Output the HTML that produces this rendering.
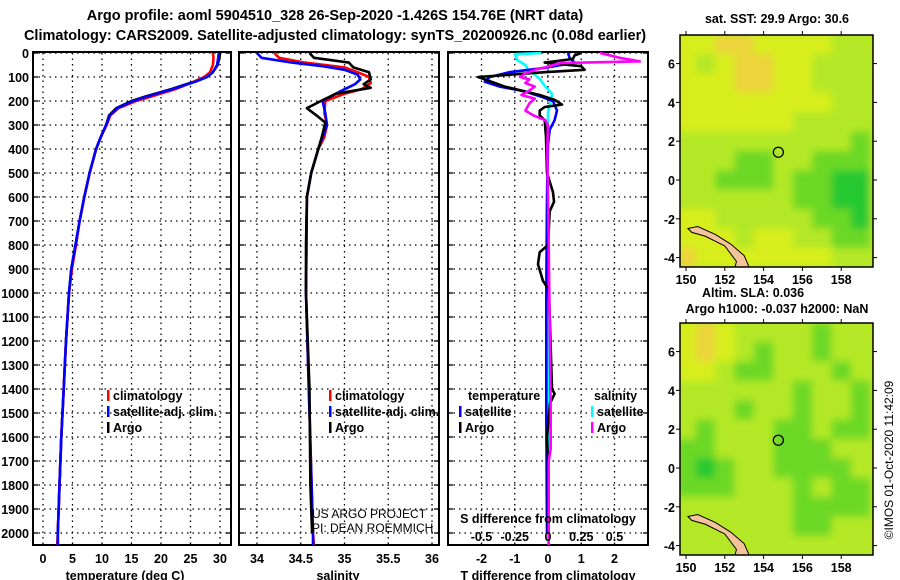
<!DOCTYPE html>
<html><head><meta charset="utf-8">
<style>
html,body{margin:0;padding:0;background:#fff;}
svg{display:block;}
text{font-family:"Liberation Sans",sans-serif;font-weight:bold;fill:#000;}
</style></head>
<body>
<svg id="chart" width="900" height="580" xmlns="http://www.w3.org/2000/svg">
<defs><filter id="blur" x="-5%" y="-5%" width="110%" height="110%"><feGaussianBlur stdDeviation="4"/></filter></defs>
<text x="335" y="20" font-size="14.5" text-anchor="middle">Argo profile: aoml 5904510_328 26-Sep-2020 -1.426S 154.76E (NRT data)</text>
<text x="335" y="40" font-size="14.5" text-anchor="middle">Climatology: CARS2009. Satellite-adjusted climatology: synTS_20200926.nc (0.08d earlier)</text>
<g id="g"></g>
</svg>
<script>
// ---------- data ----------
const depthTicks = [0,100,200,300,400,500,600,700,800,900,1000,1100,1200,1300,1400,1500,1600,1700,1800,1900,2000];
const tempTicks = [0,5,10,15,20,25,30];
const salTicks = ["34","34.5","35","35.5","36"];
const tdiffTicks = ["-2","-1","0","1","2"];
const sdiffTicks = ["-0.5","-0.25","0","0.25","0.5"];

const tDepth = [0,20,50,80,100,120,150,180,200,230,260,300,350,400,500,600,700,800,900,1000,1200,1400,1600,1800,2000,2050];
const argoT = [30.0,29.9,29.6,28.8,27.5,25.5,21.8,17.5,15.0,12.4,11.2,10.7,9.8,9.0,7.9,7.0,6.2,5.5,4.8,4.4,3.9,3.5,3.1,2.8,2.5,2.5];
const climT = [28.8,28.9,28.8,28.3,27.3,25.5,22.5,18.5,15.8,12.8,11.4,10.8,9.8,9.0,7.9,7.0,6.2,5.6,4.9,4.4,3.9,3.5,3.1,2.8,2.5,2.4];
const satT  = [29.8,29.7,29.5,28.8,27.8,25.8,22.0,17.8,15.3,12.6,11.3,10.7,9.8,9.0,7.9,7.0,6.2,5.5,4.8,4.4,3.9,3.5,3.1,2.8,2.5,2.5];

const argoSDepth = [0,20,40,60,80,110,130,145,170,200,230,260,290,350,400,500,600,800,1000,1400,1800,2000];
const argoS = [34.6,34.65,35.05,35.1,35.28,35.3,35.22,35.3,34.9,34.73,34.57,34.68,34.78,34.74,34.7,34.62,34.57,34.56,34.56,34.6,34.61,34.63];
const climSDepth = [0,20,40,60,80,100,125,150,170,200,250,300,350,400,500,600,1000,1500,2000,2050];
const climS = [34.2,34.25,34.55,35.0,35.15,35.28,35.3,35.2,35.0,34.78,34.77,34.8,34.77,34.7,34.62,34.57,34.56,34.6,34.64,34.65];
const satSDepth = [0,20,40,55,70,90,110,130,160,200,250,300,400,500,600,1000,1500,2000,2050];
const satS = [34.0,34.05,34.4,34.75,35.0,35.15,35.18,35.12,34.95,34.75,34.78,34.8,34.7,34.62,34.57,34.56,34.6,34.64,34.64];

const dTSatDepth = [0,20,40,60,80,100,120,140,160,180,200,240,280,320,380,600,1000,1500,2000];
const dTSat = [0.6,0.65,0.8,0.0,-1.15,-1.75,-1.9,-1.45,-0.7,-0.25,0.15,0.27,0.2,0.05,0.0,-0.03,-0.05,-0.05,-0.03];
const dTArgoDepth = [0,10,25,40,55,70,80,100,110,125,140,155,175,195,215,225,240,260,280,350,500,580,620,660,800,830,880,950,980,1000,1400,1420,1460,1600,1700,2000];
const dTArgo = [1.0,0.8,0.75,-0.1,1.0,1.1,-0.1,-2.1,-1.9,-1.6,-1.3,-0.85,-0.25,0.2,0.42,-0.1,-0.25,-0.25,-0.1,-0.06,-0.03,0.15,0.18,0.05,0.0,-0.25,-0.3,-0.15,0.0,0.03,0.12,0.2,0.06,-0.03,0.0,0.0];
const dSSatDepth = [0,5,30,50,70,90,110,140,170,200,250,400,1000,2000,2050];
const dSSat = [-0.05,-0.25,-0.23,-0.17,-0.15,-0.1,-0.06,-0.02,0.03,0.02,0.0,-0.005,0.0,0.005,0.005];
const dSArgoDepth = [0,20,35,42,60,70,85,100,110,125,140,160,175,190,210,240,260,280,300,400,800,1000,1500,1650,1700,2000,2050];
const dSArgo = [0.39,0.54,0.69,0.09,-0.02,-0.1,-0.17,-0.21,-0.14,-0.17,-0.1,-0.15,-0.2,-0.1,-0.14,-0.17,-0.11,-0.02,0.0,-0.005,0.005,0.01,0.02,0.02,0.005,0.005,0.005];

const mapLons = [150,151,152,153,154,155,156,157,158,159];
const mapLats = [7,6,5,4,3,2,1,0,-1,-2,-3,-4];
const sstGrid = [
 [3,3,4,4,3,3,3,3,2,2],[3,2,3,4,4,3,3,2,2,2],[3,3,3,4,4,3,3,2,2,2],[3,3,3,3,3,3,3,3,2,2],
 [3,3,3,3,3,3,2,2,2,2],[2,2,2,2,2,2,2,2,2,1],[2,2,2,1,1,2,2,1,1,1],[2,2,1,1,1,2,1,1,0,0],
 [2,2,2,2,2,2,1,1,0,0],[3,3,2,2,2,2,2,1,1,0],[3,3,3,2,3,3,2,2,1,1],[4,3,3,3,3,3,3,3,2,2]];
const slaGrid = [
 [3,4,3,2,2,2,2,1,2,2],[3,4,3,2,1,2,2,1,2,2],[3,3,2,1,1,2,2,2,1,2],[2,2,2,2,2,2,1,2,2,1],
 [2,2,2,1,2,2,1,2,2,1],[2,1,2,2,2,1,1,2,1,1],[1,1,2,2,2,1,1,1,2,2],[1,0,1,2,2,1,1,1,1,2],
 [1,1,1,2,2,2,1,2,1,1],[2,2,2,2,2,2,1,1,1,1],[2,2,2,2,2,2,1,1,2,2],[2,2,2,2,2,2,2,2,2,2]];
const floatLon = 154.76;
const floatLat = 1.43;
const mapLonTicks = [150,152,154,156,158];
const mapLatTicks = [6,4,2,0,-2,-4];
const palette = ["#28c830","#6cd828","#b4e828","#d8ee1c","#ecd43a"];

// ---------- helpers ----------
const NS = "http://www.w3.org/2000/svg";
const G = document.getElementById('g');
function el(tag, attrs, parent){ const e=document.createElementNS(NS,tag); for(const k in attrs) e.setAttribute(k,attrs[k]); (parent||G).appendChild(e); return e; }
const TOP=53, BOT=545;
const yD = d => TOP + d*0.24;

const panels = [
 {name:'temperature', x0:33, x1:231, sx:v=>43+v*5.9, ticks:tempTicks, title:'temperature (deg C)', tx:125},
 {name:'salinity', x0:239, x1:439, sx:v=>257+(v-34)*87.5, ticks:salTicks, title:'salinity', tx:338},
 {name:'difference', x0:448, x1:648, sx:v=>548+v*33.25, ticks:tdiffTicks, title:'T difference from climatology', tx:548}
];
const sxS = v => 548 + v*133;

panels.forEach(p=>{
  const g = el('g',{});
  
  
  depthTicks.forEach(d=>{
    const l = el('line',{x1:p.x0,x2:p.x1,y1:yD(d),y2:yD(d),stroke:'#000','stroke-width':1.3,'stroke-dasharray':'1.5 4'},g);
    
    
    el('line',{x1:p.x0,x2:p.x0+5,y1:yD(d),y2:yD(d),stroke:'#000','stroke-width':1.3},g);
    el('line',{x1:p.x1-5,x2:p.x1,y1:yD(d),y2:yD(d),stroke:'#000','stroke-width':1.3},g);
  });
  p.ticks.forEach(t=>{
    const x = p.sx(parseFloat(t));
    const l = el('line',{x1:x,x2:x,y1:TOP,y2:BOT,stroke:'#000','stroke-width':1.3,'stroke-dasharray':'1.5 4'},g);
    
    
    const tl = el('text',{x:x,y:563,'font-size':12.5,'text-anchor':'middle'},g);
    tl.textContent = t;
    
    
  });
  const r = el('rect',{x:p.x0,y:TOP-1,width:p.x1-p.x0,height:BOT-TOP+1,fill:'none',stroke:'#000','stroke-width':2},g);
  
  
  const at = el('text',{x:p.tx,y:580,'font-size':12.5,'text-anchor':'middle'},g);
  at.textContent = p.title;
  
  
});
depthTicks.forEach(d=>{
  const t = el('text',{x:29,y:yD(d)+5,'font-size':12.5,'text-anchor':'end'});
  t.textContent = d;
  
  
});

function series(depths, vals, sx, color, name){
  const pts = depths.map((d,i)=>sx(vals[i]).toFixed(1)+','+yD(d).toFixed(1)).join(' ');
  const pl = el('polyline',{points:pts,fill:'none',stroke:color,'stroke-width':2.6,'stroke-linejoin':'round'});
  
  
}
const sT = panels[0].sx, sS = panels[1].sx, sD = panels[2].sx;
series(tDepth, argoT, sT, '#000', 'argo-temperature-line');
series(tDepth, climT, sT, '#f00', 'climatology-temperature-line');
series(tDepth, satT, sT, '#00f', 'satellite-temperature-line');
series(climSDepth, climS, sS, '#f00', 'climatology-salinity-line');
series(satSDepth, satS, sS, '#00f', 'satellite-salinity-line');
series(argoSDepth, argoS, sS, '#000', 'argo-salinity-line');
series(dSSatDepth, dSSat, sxS, '#0ff', 'satellite-salinity-diff-line');
series(dTSatDepth, dTSat, sD, '#00f', 'satellite-temperature-diff-line');
series(dTArgoDepth, dTArgo, sD, '#000', 'argo-temperature-diff-line');
series(dSArgoDepth, dSArgo, sxS, '#f0f', 'argo-salinity-diff-line');

const sdt = el('text',{x:548,y:523,'font-size':12.5,'text-anchor':'middle'});
sdt.textContent = 'S difference from climatology';


sdiffTicks.forEach(t=>{
  const tl = el('text',{x:sxS(parseFloat(t)),y:541,'font-size':12.5,'text-anchor':'middle'});
  tl.textContent = t;
  
  
});

function legend(x,y,color,label){
  const g = el('g',{});
  
  
  el('rect',{x:x,y:y-10,width:2.5,height:11,fill:color},g);
  const t = el('text',{x:x+6,y:y,'font-size':12.5},g);
  t.textContent = label;
}
legend(107,400,'#f00','climatology'); legend(107,416,'#00f','satellite-adj. clim.'); legend(107,432,'#000','Argo');
legend(329,400,'#f00','climatology'); legend(329,416,'#00f','satellite-adj. clim.'); legend(329,432,'#000','Argo');
const lt1 = el('text',{x:468,y:400,'font-size':12.5}); lt1.textContent='temperature';
 
const lt2 = el('text',{x:594,y:400,'font-size':12.5}); lt2.textContent='salinity';
 
legend(459,416,'#00f','satellite'); legend(459,432,'#000','Argo');
legend(591,416,'#0ff','satellite'); legend(591,432,'#f0f','Argo');

const pr1 = el('text',{x:312,y:518,'font-size':12,style:'font-weight:normal'}); pr1.textContent='US ARGO PROJECT';
 
const pr2 = el('text',{x:312,y:532,'font-size':12,style:'font-weight:normal'}); pr2.textContent='PI: DEAN ROEMMICH';
 

function map(oy, grid, name){
  const mx0=680, mx1=873, my0=oy, my1=oy+232;
  const lx = lon => 686 + (lon-150)*19.4;
  const ly = lat => oy+145 - lat*19.4;
  const g = el('g',{});
  
  
  const cid='clip'+oy;
  const cp = el('clipPath',{id:cid},g);
  el('rect',{x:mx0,y:my0,width:mx1-mx0,height:my1-my0},cp);
  const outer = el('g',{'clip-path':'url(#'+cid+')'},g);
  const cells = el('g',{filter:'url(#blur)'},outer);
  el('rect',{x:mx0-20,y:my0-20,width:mx1-mx0+40,height:my1-my0+40,fill:palette[2]},cells);
  grid.forEach((row,i)=>row.forEach((v,j)=>{
    const c = el('rect',{x:lx(mapLons[j]-0.5),y:ly(mapLats[i]+0.5),width:19.6,height:19.6,fill:palette[v]},cells);
    
    
  }));
  const land = el('path',{d:`M${lx(150.1)},${ly(-2.5)} L${lx(150.6)},${ly(-2.4)} L${lx(151.5)},${ly(-2.8)} L${lx(152.3)},${ly(-3.3)} L${lx(153.0)},${ly(-3.9)} L${lx(153.3)},${ly(-4.6)} L${lx(152.5)},${ly(-4.6)} L${lx(152.6)},${ly(-4.2)} L${lx(152.0)},${ly(-3.4)} L${lx(151.0)},${ly(-2.9)} L${lx(150.3)},${ly(-2.7)} Z`,fill:'#f4c39a',stroke:'#000','stroke-width':1},outer);
  
  
  const fr = el('rect',{x:mx0,y:my0,width:mx1-mx0,height:my1-my0,fill:'none',stroke:'#000','stroke-width':1.5},g);
  
  
  const circ = el('circle',{cx:lx(floatLon),cy:ly(floatLat),r:5,fill:'none',stroke:'#000','stroke-width':1.3},g);
  
  
  mapLatTicks.forEach(t=>{
    el('line',{x1:mx0-4,x2:mx0,y1:ly(t),y2:ly(t),stroke:'#000','stroke-width':1},g);
    el('line',{x1:mx1,x2:mx1+4,y1:ly(t),y2:ly(t),stroke:'#000','stroke-width':1},g);
    const tl = el('text',{x:mx0-5,y:ly(t)+5,'font-size':12.5,'text-anchor':'end'},g);
    tl.textContent = t;
    
    
  });
  mapLonTicks.forEach(t=>{
    el('line',{x1:lx(t),x2:lx(t),y1:my1,y2:my1+4,stroke:'#000','stroke-width':1},g);
    el('line',{x1:lx(t),x2:lx(t),y1:my0-4,y2:my0,stroke:'#000','stroke-width':1},g);
    const tl = el('text',{x:lx(t),y:my1+17,'font-size':12.5,'text-anchor':'middle'},g);
    tl.textContent = t;
    
    
  });
}
map(35, sstGrid, 'sst-map');
map(323, slaGrid, 'sla-map');

function txt(x,y,s,name){
  const t = el('text',{x:x,y:y,'font-size':12.5,'text-anchor':'middle'});
  t.textContent = s;
  
  
}
txt(777,23,'sat. SST: 29.9 Argo: 30.6','sst-map-title');
txt(753,297,'Altim. SLA: 0.036','sla-value-label');
txt(777,313,'Argo h1000: -0.037 h2000: NaN','steric-height-label');
const cr = el('text',{x:0,y:0,'font-size':12,'text-anchor':'middle',transform:'translate(893,460) rotate(-90)',style:'font-weight:normal'});
cr.textContent = '©IMOS 01-Oct-2020 11:42:09';


</script>
</body></html>
